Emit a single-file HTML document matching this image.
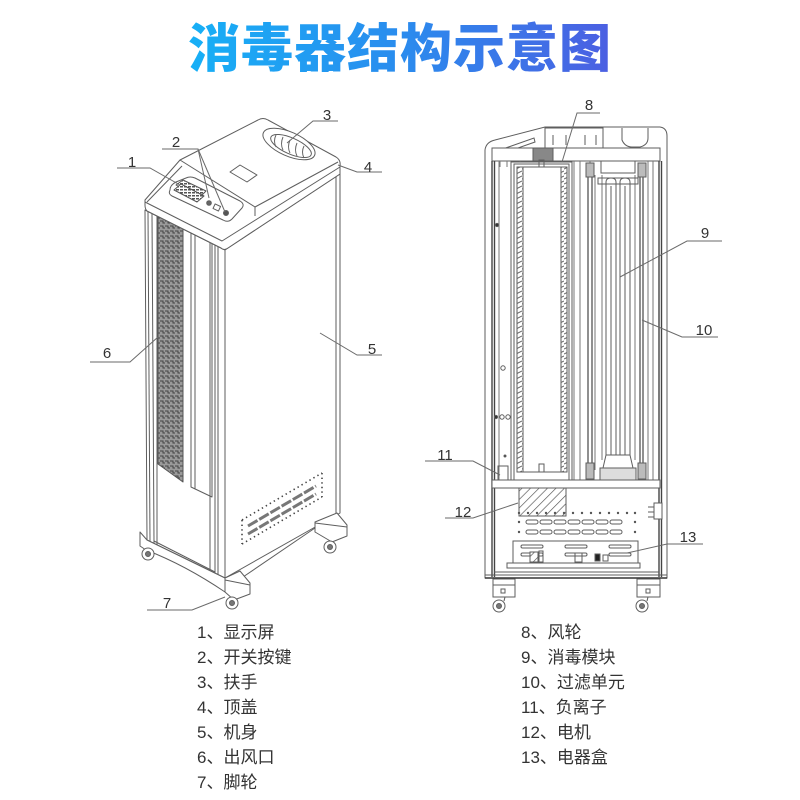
<!DOCTYPE html>
<html><head><meta charset="utf-8">
<style>
html,body{margin:0;padding:0;background:#fff;}
body{width:800px;height:800px;overflow:hidden;position:relative;}
svg{position:absolute;left:0;top:0;}
.t{font-family:"Liberation Sans","Noto Sans CJK SC",sans-serif;}
</style></head>
<body>
<svg width="800" height="800" viewBox="0 0 800 800" xmlns="http://www.w3.org/2000/svg">
<defs>
<linearGradient id="tg" x1="188" y1="0" x2="612" y2="0" gradientUnits="userSpaceOnUse">
<stop offset="0" stop-color="#17b0f6"/>
<stop offset="0.5" stop-color="#2a8cee"/>
<stop offset="1" stop-color="#4c5fe2"/>
</linearGradient>
<pattern id="grill" width="5" height="5" patternUnits="userSpaceOnUse">
<rect width="5" height="5" fill="#9a9a9a"/>
<path d="M0,1 h3 v2 h2" stroke="#444" stroke-width="1" fill="none"/>
</pattern>
<pattern id="hatch" width="6" height="6" patternUnits="userSpaceOnUse" patternTransform="rotate(45)">
<rect width="6" height="6" fill="#fff"/>
<line x1="0" y1="0" x2="0" y2="6" stroke="#555" stroke-width="1.3"/>
</pattern>
<pattern id="vhatch" width="6" height="5" patternUnits="userSpaceOnUse">
<rect width="6" height="5" fill="#fff"/>
<line x1="0" y1="4" x2="6" y2="1" stroke="#666" stroke-width="1"/>
</pattern>
<pattern id="scr" width="4" height="3" patternUnits="userSpaceOnUse">
<rect width="4" height="3" fill="#fff"/>
<rect width="3" height="1.5" fill="#555"/>
</pattern>
</defs>

<!-- Title -->
<text x="400" y="67" text-anchor="middle" font-family="'Noto Sans CJK SC','WenQuanYi Zen Hei',sans-serif" font-weight="900" font-size="52" letter-spacing="1" fill="url(#tg)">消毒器结构示意图</text>

<!-- ================= LEFT DEVICE ================= -->
<g fill="none" stroke="#5e5e5e" stroke-width="1" stroke-linejoin="round">
<!-- body side face -->
<path d="M225,250 L340,174 L340,513 L225,578 Z" fill="#fff"/>
<line x1="336" y1="177" x2="336" y2="515"/>
<!-- body front face -->
<path d="M145,210 L225,250 L225,578 L147,540 Z" fill="#fff"/>
<line x1="148" y1="212" x2="150" y2="541"/>
<line x1="152" y1="214" x2="154" y2="543"/>
<line x1="157" y1="216" x2="157" y2="545"/>
<line x1="210" y1="240" x2="210" y2="570"/>
<line x1="215" y1="243" x2="215" y2="573"/>
<line x1="218" y1="245" x2="218" y2="575"/>
<line x1="154" y1="541" x2="215" y2="572"/>
<!-- grille -->
<path d="M158,215 L183,228 L183,482 L158,464 Z" fill="url(#grill)" stroke="#555"/>
<!-- strip -->
<path d="M191,230 L212,240 L212,497 L191,487 Z"/>
<line x1="195" y1="232" x2="195" y2="489"/>
<!-- side vent dots -->
<g stroke="#444" stroke-width="1.6" stroke-dasharray="1.4 3.2">
<line x1="242" y1="520" x2="322" y2="473"/>
<line x1="242" y1="544" x2="322" y2="497"/>
<line x1="242" y1="520" x2="242" y2="544"/>
<line x1="322" y1="473" x2="322" y2="497"/>
</g>
<g stroke="#777" stroke-width="3" stroke-dasharray="11 2">
<line x1="248" y1="526" x2="316" y2="486"/>
<line x1="248" y1="534" x2="316" y2="494"/>
</g>
<!-- base -->
<path d="M140,532 L147,540 L225,578 L225,592 Q185,565 146,550 L140,546 Z" fill="#fff"/>
<line x1="243" y1="577" x2="315" y2="528"/>
<!-- front caster block -->
<path d="M225,578 L240,571 L250,583 L250,594 L234,600 L225,592 Z" fill="#fff"/>
<line x1="225" y1="580" x2="250" y2="585"/>
<circle cx="232" cy="603" r="6" fill="#fff"/><circle cx="232" cy="603" r="2.5" fill="#777"/>
<!-- rear caster block -->
<path d="M315,522 L337,513 L347,525 L347,536 L332,542 L315,532 Z" fill="#fff"/>
<line x1="315" y1="523" x2="347" y2="527"/>
<circle cx="330" cy="547" r="6" fill="#fff"/><circle cx="330" cy="547" r="2.5" fill="#777"/>
<!-- left caster -->
<circle cx="148" cy="554" r="6" fill="#fff"/><circle cx="148" cy="554" r="2.5" fill="#777"/>

<!-- top cover -->
<path d="M145,200 L180,160 L258,120 Q263,117 268,120 L336,157 Q341,160 340,166 L340,174 L228,248 Q224,251 221,248 L147,211 Q145,209 145,205 Z" fill="#fff"/>
<path d="M180,160 L255,207"/>
<path d="M255,207 L338,162"/>
<path d="M145,202 L222,241 L340,167"/>
<path d="M255,207 L255,216"/>
<line x1="182" y1="166" x2="147" y2="202"/>
<!-- display panel -->
<path d="M170,190 Q170,185 176,182 L186,178 Q190,176 195,178 L240,201 Q245,204 242,208 L232,219 Q228,223 223,220 L172,196 Q168,194 170,190 Z"/>
<path d="M176,185 L183,180 L206,191 L199,198 Z" fill="url(#scr)" stroke="#555"/>
<path d="M174,190 L181,184 L204,196 L197,202 Z" fill="url(#scr)" stroke="#555"/>
<circle cx="209" cy="203" r="2.3" fill="#666"/>
<rect x="214" y="205" width="6" height="5" transform="rotate(25 217 207)"/>
<circle cx="226" cy="213" r="2.5" fill="#555"/>
<!-- top screen recess -->
<path d="M230,172 L240,165 L257,175 L247,182 Z"/>
<!-- handle -->
<ellipse cx="289" cy="144" rx="28" ry="12" transform="rotate(24 289 144)" fill="#fff"/>
<ellipse cx="291" cy="146" rx="22" ry="8" transform="rotate(24 291 146)"/>
<g stroke="#666">
<path d="M276,135 q-3,6 0,12"/><path d="M283,137 q-3,7 0,13"/><path d="M290,140 q-3,7 0,13"/><path d="M297,143 q-3,7 0,13"/><path d="M304,146 q-3,6 0,12"/>
</g>
</g>

<!-- left labels -->
<g fill="none" stroke="#6a6a6a" stroke-width="1">
<polyline points="117,168 150,168 180,185"/>
<polyline points="162,149 198,149 209,198"/>
<line x1="198" y1="149" x2="225" y2="212"/>
<polyline points="287,143 313,121 338,121"/>
<polyline points="338,165 357,172 382,172"/>
<polyline points="320,333 357,355 382,355"/>
<polyline points="90,362 130,362 158,337"/>
<polyline points="147,610 192,610 225,597"/>
</g>
<g class="t" font-size="15" fill="#333" text-anchor="middle">
<text x="132" y="167">1</text>
<text x="176" y="147">2</text>
<text x="327" y="120">3</text>
<text x="368" y="172">4</text>
<text x="372" y="354">5</text>
<text x="107" y="358">6</text>
<text x="167" y="608">7</text>
</g>

<!-- ================= RIGHT DEVICE ================= -->
<g fill="none" stroke="#5e5e5e" stroke-width="1">
<!-- top cover -->
<path d="M485,578 L485,150 Q486,142 495,140 L545,127 L660,127 Q667,128 667,136 L667,578 Z" fill="#fff"/>
<path d="M500,150 L534,138 L535,142 L501,154 Z"/>
<rect x="545" y="128" width="58" height="20"/>
<line x1="553" y1="135" x2="553" y2="145"/><line x1="566" y1="135" x2="566" y2="145"/><line x1="585" y1="135" x2="585" y2="145"/><line x1="596" y1="135" x2="596" y2="145"/>
<path d="M622,128 L622,140 Q625,147 632,147 L640,147 Q648,145 648,138 L648,128"/>
<line x1="603" y1="128" x2="603" y2="148"/>
<!-- top bar -->
<rect x="492" y="148" width="168" height="13" fill="#fff"/>
<rect x="533" y="148" width="20" height="13" fill="#888"/>
<g stroke="#777">
<line x1="500" y1="161" x2="500" y2="167"/><line x1="507" y1="161" x2="507" y2="167"/><line x1="520" y1="161" x2="520" y2="167"/><line x1="590" y1="161" x2="590" y2="167"/>
</g>
<!-- inner frame verticals -->
<g stroke="#444" stroke-width="1.4">
<line x1="492" y1="161" x2="492" y2="577"/>
<line x1="494.5" y1="161" x2="494.5" y2="577"/>
<line x1="659" y1="161" x2="659" y2="577"/>
<line x1="661.5" y1="161" x2="661.5" y2="577"/>
</g>
<g stroke="#777">
<line x1="499" y1="161" x2="499" y2="481"/>
<line x1="574" y1="161" x2="574" y2="481"/>
<line x1="580" y1="161" x2="580" y2="481"/>
<line x1="595" y1="175" x2="595" y2="470"/>
<line x1="602" y1="175" x2="602" y2="460"/>
<line x1="635" y1="175" x2="635" y2="460"/>
<line x1="648" y1="161" x2="648" y2="481"/>
<line x1="653" y1="161" x2="653" y2="481"/>
</g>
<g stroke="#555" stroke-width="1.3">
<line x1="588" y1="165" x2="588" y2="481"/>
<line x1="592" y1="165" x2="592" y2="481"/>
<line x1="640" y1="165" x2="640" y2="481"/>
<line x1="643" y1="165" x2="643" y2="481"/>
</g>
<!-- rod connectors -->
<rect x="586" y="163" width="8" height="14" fill="#bbb"/>
<rect x="638" y="163" width="8" height="14" fill="#bbb"/>
<rect x="586" y="463" width="8" height="16" fill="#bbb"/>
<rect x="638" y="463" width="8" height="16" fill="#bbb"/>
<!-- UV lamp -->
<rect x="601" y="161" width="34" height="12" fill="#fff"/>
<rect x="598" y="178" width="40" height="6"/>
<path d="M606,462 L606,182 Q606,178 611,178 Q616,178 616,182 L616,462"/>
<path d="M620,462 L620,182 Q620,178 625,178 Q630,178 630,182 L630,462"/>
<line x1="611" y1="186" x2="611" y2="458"/>
<line x1="625" y1="186" x2="625" y2="458"/>
<path d="M606,455 L630,455 L633,468 L603,468 Z" fill="#fff"/>
<rect x="600" y="468" width="36" height="12" fill="#ddd"/>
<!-- fan module -->
<rect x="511" y="162" width="61" height="319" fill="#fff"/>
<rect x="514" y="164" width="55" height="316"/>
<rect x="517" y="167" width="6" height="305" fill="url(#vhatch)"/>
<rect x="561" y="167" width="6" height="305" fill="url(#vhatch)"/>
<line x1="523" y1="167" x2="561" y2="167"/>
<line x1="523" y1="472" x2="561" y2="472"/>
<rect x="539" y="464" width="5" height="8"/>
<rect x="539" y="160" width="5" height="7"/>
<!-- left side details -->
<circle cx="497" cy="225" r="1.6" fill="#333"/>
<circle cx="503" cy="368" r="2.2"/>
<circle cx="496" cy="417" r="1.6" fill="#333"/>
<circle cx="502" cy="417" r="2.2"/>
<circle cx="508" cy="417" r="2.2"/>
<circle cx="505" cy="456" r="1" fill="#333"/>
<rect x="498" y="466" width="10" height="14"/>
<!-- mid plate -->
<rect x="492" y="480" width="168" height="8" fill="#fff"/>
<!-- motor -->
<rect x="519" y="488" width="47" height="28" fill="url(#hatch)"/>
<!-- dots & slots -->
<g fill="#555" stroke="none">
<circle cx="519" cy="513" r="1.2"/><circle cx="528" cy="513" r="1.2"/><circle cx="537" cy="513" r="1.2"/><circle cx="546" cy="513" r="1.2"/><circle cx="555" cy="513" r="1.2"/><circle cx="564" cy="513" r="1.2"/><circle cx="573" cy="513" r="1.2"/><circle cx="582" cy="513" r="1.2"/><circle cx="591" cy="513" r="1.2"/><circle cx="600" cy="513" r="1.2"/><circle cx="609" cy="513" r="1.2"/><circle cx="618" cy="513" r="1.2"/><circle cx="627" cy="513" r="1.2"/><circle cx="635" cy="513" r="1.2"/>
<circle cx="519" cy="522" r="1.2"/><circle cx="519" cy="532" r="1.2"/><circle cx="635" cy="522" r="1.2"/><circle cx="635" cy="532" r="1.2"/>
</g>
<g>
<rect x="526" y="520" width="12" height="4" rx="2"/><rect x="540" y="520" width="12" height="4" rx="2"/><rect x="554" y="520" width="12" height="4" rx="2"/><rect x="568" y="520" width="12" height="4" rx="2"/><rect x="582" y="520" width="12" height="4" rx="2"/><rect x="596" y="520" width="12" height="4" rx="2"/><rect x="610" y="520" width="12" height="4" rx="2"/>
<rect x="526" y="530" width="12" height="4" rx="2"/><rect x="540" y="530" width="12" height="4" rx="2"/><rect x="554" y="530" width="12" height="4" rx="2"/><rect x="568" y="530" width="12" height="4" rx="2"/><rect x="582" y="530" width="12" height="4" rx="2"/><rect x="596" y="530" width="12" height="4" rx="2"/><rect x="610" y="530" width="12" height="4" rx="2"/>
</g>
<!-- side connector -->
<rect x="654" y="503" width="8" height="16" fill="#fff"/>
<line x1="648" y1="507" x2="654" y2="507"/><line x1="648" y1="512" x2="654" y2="512"/><line x1="648" y1="517" x2="654" y2="517"/>
<!-- electric box -->
<rect x="513" y="541" width="125" height="23" fill="#fff"/>
<rect x="521" y="545" width="22" height="3" rx="1.5"/><rect x="565" y="545" width="22" height="3" rx="1.5"/><rect x="609" y="545" width="22" height="3" rx="1.5"/>
<rect x="521" y="553" width="22" height="3" rx="1.5"/><rect x="565" y="553" width="22" height="3" rx="1.5"/><rect x="609" y="553" width="22" height="3" rx="1.5"/>
<rect x="530" y="552" width="8" height="10" fill="url(#hatch)"/>
<rect x="539" y="551" width="4" height="11"/>
<rect x="575" y="553" width="7" height="9"/>
<rect x="595" y="554" width="5" height="7" fill="#222"/>
<rect x="603" y="555" width="5" height="6"/>
<rect x="507" y="563" width="133" height="5" fill="#fff"/>
<line x1="494" y1="572" x2="659" y2="572"/>
<line x1="485" y1="575" x2="667" y2="575"/>
<line x1="485" y1="578" x2="667" y2="578" stroke="#333" stroke-width="1.5"/>
<!-- casters -->
<rect x="493" y="579" width="22" height="18" fill="#fff"/>
<line x1="493" y1="585" x2="515" y2="585"/>
<rect x="501" y="589" width="4" height="4"/>
<circle cx="499" cy="606" r="6" fill="#fff"/><circle cx="499" cy="606" r="2.5" fill="#777"/>
<line x1="505" y1="597" x2="504" y2="601"/>
<rect x="637" y="579" width="23" height="18" fill="#fff"/>
<line x1="637" y1="585" x2="660" y2="585"/>
<rect x="646" y="589" width="4" height="4"/>
<circle cx="642" cy="606" r="6" fill="#fff"/><circle cx="642" cy="606" r="2.5" fill="#777"/>
<line x1="648" y1="597" x2="647" y2="601"/>
</g>

<!-- right labels -->
<g fill="none" stroke="#6a6a6a" stroke-width="1">
<polyline points="600,113 577,113 562,162"/>
<polyline points="722,241 687,241 620,277"/>
<polyline points="718,337 682,337 642,320"/>
<polyline points="425,461 473,461 500,475"/>
<polyline points="445,518 473,518 518,503"/>
<polyline points="703,544 667,544 627,553"/>
</g>
<g class="t" font-size="15" fill="#333" text-anchor="middle">
<text x="589" y="110">8</text>
<text x="705" y="238">9</text>
<text x="704" y="335">10</text>
<text x="445" y="460">11</text>
<text x="463" y="517">12</text>
<text x="688" y="542">13</text>
</g>

<!-- legend -->
<g class="t" font-size="17" fill="#333" font-family="'Liberation Sans','Noto Sans CJK SC',sans-serif">
<text x="197" y="638">1、显示屏</text>
<text x="197" y="663">2、开关按键</text>
<text x="197" y="688">3、扶手</text>
<text x="197" y="713">4、顶盖</text>
<text x="197" y="738">5、机身</text>
<text x="197" y="763">6、出风口</text>
<text x="197" y="788">7、脚轮</text>
<text x="521" y="638">8、风轮</text>
<text x="521" y="663">9、消毒模块</text>
<text x="521" y="688">10、过滤单元</text>
<text x="521" y="713">11、负离子</text>
<text x="521" y="738">12、电机</text>
<text x="521" y="763">13、电器盒</text>
</g>
</svg>
</body></html>
